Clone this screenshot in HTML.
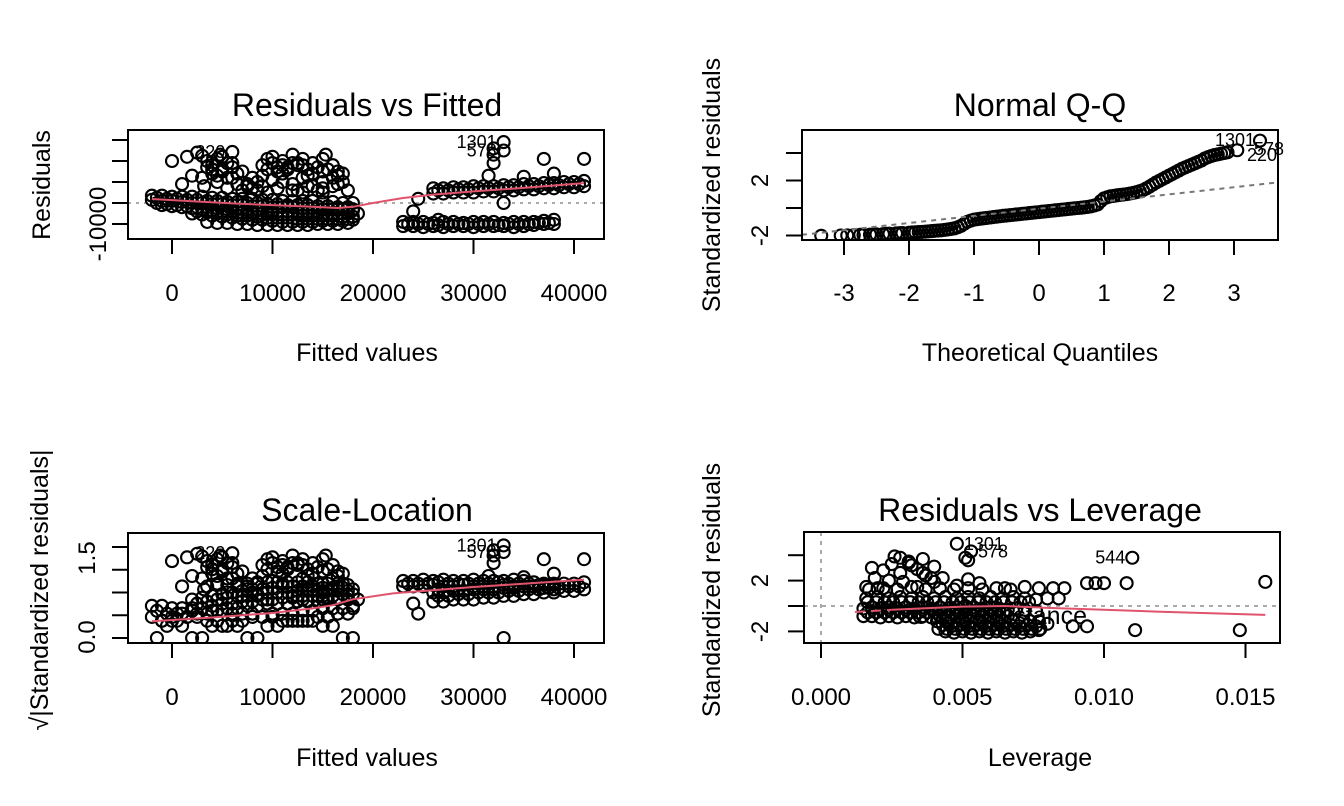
<!DOCTYPE html>
<html><head><meta charset="utf-8"><style>
html,body{margin:0;padding:0;background:#fff;}
svg{display:block;font-family:"Liberation Sans",Arial,sans-serif;}
</style></head><body>
<svg id="fig" width="1344" height="806" viewBox="0 0 1344 806">
<rect width="1344" height="806" fill="#fff"/>
<text x="367" y="116" font-size="32" text-anchor="middle">Residuals vs Fitted</text>
<text x="1040" y="116" font-size="32" text-anchor="middle">Normal Q-Q</text>
<text x="367" y="521" font-size="32" text-anchor="middle">Scale-Location</text>
<text x="1040" y="521" font-size="32" text-anchor="middle">Residuals vs Leverage</text>
<text x="367" y="361" font-size="25" text-anchor="middle">Fitted values</text>
<text x="1040" y="361" font-size="25" text-anchor="middle">Theoretical Quantiles</text>
<text x="367" y="766" font-size="25" text-anchor="middle">Fitted values</text>
<text x="1040" y="766" font-size="25" text-anchor="middle">Leverage</text>
<text transform="translate(50,185) rotate(-90)" font-size="25" text-anchor="middle">Residuals</text>
<text transform="translate(720,185) rotate(-90)" font-size="25" text-anchor="middle">Standardized residuals</text>
<text transform="translate(48,590) rotate(-90)" font-size="25" text-anchor="middle">√|Standardized residuals|</text>
<text transform="translate(720,590) rotate(-90)" font-size="25" text-anchor="middle">Standardized residuals</text>
<g id="plots"></g>
</svg>
<script>
// ---------- Panel 1 data (fitted, residual; thousands) ----------
const bandAX=[-2,-1,0,1,2,3,4,5,6,7,8,9,10,11,12,13,14,15,16,17,18];
const bandAR=[3.5,3.5,3,3,3,3,2.5,2.5,2,2,2,1.5,1.5,1,1,1,1,0.5,0.5,0,0];
const bandBX=[-2,-1,0,1,2,3,4,5,6,7,8,9,10,11,12,13,14,15,16,17,18];
const bandBR=[1.5,1,1,0.5,0,0,-0.5,-0.5,-1,-1,-1.5,-1.5,-2,-2,-2,-2.5,-2.5,-3,-3,-3,-3.5];
const bandCX=[-1,0,1,2,3,4,5,6,7,8,9,10,11,12,13,14,15,16,17,18];
const bandCR=[-1,-1.5,-2,-2.5,-3,-3.5,-4,-4,-4.5,-4.5,-5,-5,-5.5,-5.5,-6,-6,-6,-6,-6.5,-6.5];
const bandDX=[2,3,4,5,6,7,8,9,10,11,12,13,14,15,16,17,18];
const bandDR=[-5,-5.5,-6,-6.5,-7,-7.5,-8,-8,-8.5,-9,-9,-9,-9,-8.5,-8.5,-8.5,-8];
const bandEX=[-1.5,-0.5,0.5,1.5,2.5,3.5,4.5,5.5,6.5,7.5,8.5,9.5,10.5,11.5,12.5,13.5,14.5,15.5,16.5,17.5];
const bandER=[2.5,2,2,1.5,1.5,1,1,0.5,0.5,0,0,-0.5,-0.5,-1,-1,-1,-1.5,-1.5,-2,-2];
const bandFR=[0,-0.5,-1,-1.5,-2,-2,-2.5,-3,-3,-3.5,-3.5,-4,-4,-4,-4.5,-4.5,-4.5,-5,-5,-5];
const bandGX=[2.5,3.5,4.5,5.5,6.5,7.5,8.5,9.5,10.5,11.5,12.5,13.5,14.5,15.5,16.5,17.5];
const bandGR=[-4,-4.5,-5,-5.5,-6,-6,-6.5,-7,-7,-7,-7.5,-7.5,-7.5,-7.5,-7.5,-7.5];
const bandHX=[3.5,4.5,5.5,6.5,7.5,8.5,9.5,10.5,11.5,12.5,13.5,14.5,15.5,16.5,17.5];
const bandHR=[-9,-9.5,-9.5,-10,-10,-10.5,-10.5,-10.5,-10.5,-10.5,-10.5,-10,-10,-10,-9.5];
const upX=[1.5,2.5,3.5,4,4.5,5,5.5,3,4,5,6,7,2,3.2,4.5,6,7.5,8.5,9,9.5,10,10.5,11,11.5,12,12.5,13,13.5,14,15,15.3,16,16.5,17,9,10,11,12,13,14,15,16,5.5,7,8,12.5,14.5,3,4.8,17.5,18,18.5,0,1,6.5,8,6];
const upR=[22,24,20,18,21,22,19,12,14,16,17,15,13,8,10,12,9,10,18,21,19,17,20,16,23,19,18,16,14,21,23,12,15,10,13,11,14,9,12,8,10,8,7,6,7,6,6,22.5,23,6,-3,-5,20,9,14,12,24.3];
const up2X=[9.5,10.5,11.5,12.5,13.5,14.5,15.5,16.5,10,11,12,13,14,15,16,17,9,10.5,12,13.5,15,16.5,4,5,6,3.5,4.5,5.5,6.5,7.5,8.5,9.5,11,13,15];
const up2R=[16,15,17,18,13,17,16,13,22,18,19,21,19,15,18,14,8,7,6,8,7,9,16,15,19,17,13,12,9,8,6,5,10,5,5];
const rU1X=[26,27,28,29,30,31,32,33,34,35,36,37,38,39,40,41];
const rU1R=[7,7,7.5,7.5,8,8,8,8.5,8.5,9,9,9.5,9.5,10,10,10.5];
const rU2R=[4.5,4.5,5,5,5,5.5,5.5,6,6,6.5,6.5,7,7,7.5,7.5,8];
const rU3X=[26.5,27.5,28.5,29.5,30.5,31.5,32.5,33.5,34.5,35.5,36.5,37.5,38.5,39.5,40.5];
const rU3R=[6,6,6.5,6.5,7,7,7,7.5,7.5,8,8,8.5,8.5,9,9];
const rLX=[23,24,25,26,27,28,29,30,31,32,33,34,35,36,37,38];
const rL1R=[-9,-9,-9,-9.5,-9,-9,-9.5,-9,-9,-9,-9.5,-9,-9,-9,-8.5,-8];
const rL2R=[-11,-11,-11.5,-11,-11.5,-11,-11,-11.5,-11,-11,-11,-11.5,-11,-10.5,-10,-10];
const rL3X=[23.5,24.5,25.5,26.5,27.5,28.5,29.5,30.5,31.5,32.5,33.5,34.5,35.5,36.5,37.5];
const rL3R=[-10,-10,-10,-10.5,-10,-10,-10,-10,-10,-10.5,-10,-10,-10,-9.5,-9.5];
const outX=[33,33,32,32,32,31.5,35,37,41,38,24.5,24,33,26.5];
const outR=[29,25,26,23,19,13,12.5,21,21,14,2,-4,0,-8];
const loess1X=[-2,2,6,10,14,16.5,18,20,23,26,30,35,41];
const loess1Y=[1.9,0.8,-0.2,-1,-1.8,-2.4,-1.8,0,2.4,4,5.5,7.2,9.5];
const loess3X=[-2,4,10,14,16,18,22,30,41];
const loess3Y=[0.37,0.45,0.55,0.65,0.72,0.85,0.98,1.12,1.28];
// ---------- Panel 2 data ----------
const qqTheo=[-3.35,-3.05,-2.85,-2.7,-2.6,-2.5,-2.4,-2.3,-2.2,-2.1,-2,-1.9,-1.8,-1.7,-1.6,-1.5,-1.4,-1.3,-1.2,-1.1,-1,-0.9,-0.8,-0.7,-0.6,-0.5,-0.4,-0.3,-0.2,-0.1,0,0.1,0.2,0.3,0.4,0.5,0.6,0.7,0.8,0.9,1,1.1,1.2,1.3,1.4,1.5,1.6,1.7,1.8,1.9,2,2.1,2.2,2.3,2.4,2.5,2.6,2.7,2.8,2.9,3.05,3.4];
const qqStd=[-2.02,-2,-1.98,-1.96,-1.94,-1.92,-1.9,-1.87,-1.85,-1.82,-1.8,-1.77,-1.74,-1.7,-1.66,-1.62,-1.56,-1.48,-1.3,-1.0,-0.85,-0.78,-0.72,-0.66,-0.6,-0.55,-0.5,-0.45,-0.4,-0.35,-0.3,-0.25,-0.2,-0.15,-0.1,-0.05,0,0.05,0.12,0.25,0.7,0.85,0.92,0.98,1.05,1.15,1.3,1.55,1.85,2.1,2.35,2.6,2.85,3.05,3.25,3.45,3.7,3.85,3.95,4.05,4.2,4.9];
const qqTheo2=[-2.95,-2.75,-2.55,-2.35,-2.15,-1.95,-1.85,-1.75,-1.65,-1.55,-1.45,-1.35,-1.25,-1.15,-1.05,-0.95,-0.85,-0.75,-0.65,-0.55,-0.45,-0.35,-0.25,-0.15,-0.05,0.05,0.15,0.25,0.35,0.45,0.55,0.65,0.75,0.85,0.95,1.05,1.15,1.25,1.35,1.45,1.55,1.65,1.75,1.85,1.95,2.05,2.15,2.25,2.35,2.45,2.55,2.65,2.75,2.85];
const qqStd2=[-1.99,-1.95,-1.93,-1.88,-1.83,-1.78,-1.75,-1.72,-1.68,-1.64,-1.59,-1.52,-1.4,-1.15,-0.92,-0.81,-0.75,-0.69,-0.63,-0.57,-0.52,-0.47,-0.42,-0.37,-0.32,-0.27,-0.22,-0.17,-0.12,-0.07,-0.02,0.02,0.08,0.18,0.5,0.78,0.88,0.95,1.01,1.1,1.22,1.42,1.7,1.97,2.22,2.47,2.72,2.95,3.15,3.35,3.6,3.78,3.9,4.0];
// ---------- Panel 4 data (leverage in 0.001, std residual) ----------
const levX=[1.5,1.8,2.1,2.4,2.7,3,3.3,3.6,3.9,4.2,4.5,4.8,5.1,5.4,5.7,6,6.3,6.6,
 1.5,1.8,2.1,2.4,2.7,3,3.3,3.6,3.9,4.2,4.5,4.8,5.1,5.4,5.7,6,6.3,6.6,6.9,7.2,7.6,
 1.6,2,2.4,2.8,3.2,3.6,4,4.4,4.8,5.2,5.6,6,6.4,6.8,7.2,7.6,8,8.4,
 4.3,4.6,4.9,5.2,5.5,5.8,6.1,6.4,6.7,7,7.3,7.6,8,
 4.4,4.7,5,5.3,5.6,5.9,6.2,6.5,6.8,7.1,7.4,7.7,
 1.6,1.9,2.2,2.5,2.8,3.1,3.4,3.7,4,2,2.4,2.8,3.2,3.6,4,1.8,2.3,2.9,3.4,3.9,2.6,3.1,3.6,4.3,4.8,5.2,5.6,6.5,
 1.7,2.2,2.7,3.2,3.7,4.2,4.7,5.2,5.7,6.2,6.7,7.2,7.7,8.2,8.6,
 4.8,5.3,5.1,5.2,9.4,9.7,10,10.8,11,11.1,14.8,15.7,9.4,8.9];
const levS=[-0.8,-0.8,-0.9,-0.8,-0.9,-0.8,-0.9,-0.8,-0.9,-0.8,-0.9,-0.8,-0.9,-0.8,-0.9,-0.8,-0.9,-0.8,
 -0.2,-0.1,-0.2,-0.1,-0.2,-0.1,-0.2,-0.1,-0.2,-0.1,-0.2,-0.1,0,-0.1,-0.2,-0.1,-0.2,-0.3,-0.2,-0.3,-0.4,
 0.6,0.7,0.6,0.7,0.6,0.7,0.6,0.7,0.6,0.7,0.6,0.7,0.6,0.7,0.6,0.5,0.6,0.6,
 -1.5,-1.6,-1.5,-1.6,-1.5,-1.6,-1.5,-1.6,-1.5,-1.6,-1.5,-1.6,-1.4,
 -2,-2.1,-2,-2.1,-2,-2.1,-2,-2.1,-2,-2.1,-2,-1.9,
 1.5,2.2,2.8,3.3,3.8,3.4,2.9,2.4,1.9,1.4,2,2.6,3.2,2.6,3.1,3,1.2,1.9,1.5,2.2,3.9,3.5,3.7,2.2,1.6,2.1,1.8,1.4,
 1.3,1.4,1.3,1.5,1.3,1.4,1.3,1.4,1.3,1.4,1.3,1.5,1.4,1.4,1.4,
 4.9,4.3,3.8,3.6,1.8,1.8,1.8,1.8,3.8,-1.9,-1.9,1.9,-1.6,-1.6];
const lev2X=[1.65,1.95,2.25,2.55,2.85,3.15,3.45,3.75,4.05,4.35,4.65,4.95,5.25,5.55,5.85,6.15,6.45,
 1.65,1.95,2.25,2.55,2.85,3.15,3.45,3.75,4.05,4.35,4.65,4.95,5.25,5.55,5.85,6.15,6.45,6.75,7.05,7.35,
 4.1,4.4,4.7,5,5.3,5.6,5.9,6.2,6.5,6.8,7.1,7.4,7.7,
 4.15,4.45,4.75,5.05,5.35,5.65,5.95,6.25,6.55,6.85,7.15,7.45,7.75];
const lev2S=[-0.5,-0.5,-0.5,-0.5,-0.5,-0.5,-0.5,-0.5,-0.5,-0.5,-0.5,-0.5,-0.5,-0.5,-0.5,-0.5,-0.5,
 0.3,0.3,0.3,0.3,0.3,0.3,0.3,0.3,0.3,0.3,0.3,0.3,0.3,0.3,0.3,0.3,0.3,0.3,0.3,0.3,
 -1.2,-1.2,-1.2,-1.2,-1.2,-1.2,-1.2,-1.2,-1.2,-1.2,-1.2,-1.2,-1.2,
 -1.8,-1.8,-1.8,-1.8,-1.8,-1.8,-1.8,-1.8,-1.8,-1.8,-1.8,-1.8,-1.8];
const loess4X=[1.2,2.5,5,6.5,8,10,12,15.7];
const loess4Y=[-0.47,-0.3,-0.05,0,-0.15,-0.3,-0.45,-0.7];

const NS='http://www.w3.org/2000/svg';
const root=document.getElementById('plots');
function mk(tag,attrs,name,parent){
  const e=document.createElementNS(NS,tag);
  for(const k in attrs) e.setAttribute(k,attrs[k]);
  
  
  (parent||root).appendChild(e);
  return e;
}
function txt(s,attrs,name,parent){const e=mk('text',attrs,name,parent);e.textContent=s;return e;}

const panels={
 p1:{L:128,R:604,T:130,B:239,sx:x=>172+x*10.05,sy:r=>203-r*2.1},
 p2:{L:802,R:1278,T:130,B:240,sx:q=>1039+q*65,sy:s=>208-s*13.75},
 p3:{L:128,R:604,T:533,B:643,sx:x=>172+x*10.05,sy:v=>638-v*45.5},
 p4:{L:804,R:1280,T:532,B:643,sx:l=>821+l*28.3,sy:s=>606-s*12.7}
};
function frame(P,id){
  mk('rect',{x:P.L,y:P.T,width:P.R-P.L,height:P.B-P.T,fill:'none',stroke:'#000','stroke-width':2},id+'-plot-box');
}
function xAxis(P,id,vals,labels,labY){
  vals.forEach((v,i)=>{
    const x=P.sx(v);
    mk('line',{x1:x,x2:x,y1:P.B,y2:P.B+15,stroke:'#000','stroke-width':2},id+'-x-tick');
    txt(labels[i],{x:x,y:labY,'font-size':24,'text-anchor':'middle'},id+'-x-tick-label');
  });
}
function yAxis(P,id,vals,labels,lx,labPos){
  vals.forEach((v,i)=>{
    const y=P.sy(v);
    mk('line',{x1:P.L-16,x2:P.L,y1:y,y2:y,stroke:'#000','stroke-width':2},id+'-y-tick');
    if(labels[i]){
      const yy=labPos&&labPos[i]!=null?labPos[i]:y;
      txt(labels[i],{transform:`translate(${lx},${yy}) rotate(-90)`,'font-size':24,'text-anchor':'middle'},id+'-y-tick-label');
    }
  });
}
function clipFor(P,id){
  const cp=mk('clipPath',{id:id+'clip'},id+'-clip');
  mk('rect',{x:P.L,y:P.T,width:P.R-P.L,height:P.B-P.T},id+'-clip-rect',cp);
  return mk('g',{'clip-path':`url(#${id}clip)`},id+'-plot-area');
}
function pts(P,g,xs,ys,name,f){
  xs.forEach((x,i)=>{
    const y=f?f(ys[i]):ys[i];
    mk('circle',{cx:P.sx(x),cy:P.sy(y),r:6,fill:'none',stroke:'#000','stroke-width':2.1},name,g);
  });
}
function line(P,g,xs,ys,name,attrs){
  const d=xs.map((x,i)=>(i?'L':'M')+P.sx(x).toFixed(1)+','+P.sy(ys[i]).toFixed(1)).join('');
  mk('path',Object.assign({d:d,fill:'none'},attrs),name,g);
}
function allP1(P,g,name,f){
  pts(P,g,bandAX,bandAR,name,f);pts(P,g,bandBX,bandBR,name,f);pts(P,g,bandCX,bandCR,name,f);pts(P,g,bandDX,bandDR,name,f);
  pts(P,g,bandEX,bandER,name,f);pts(P,g,bandEX,bandFR,name,f);pts(P,g,bandGX,bandGR,name,f);pts(P,g,bandHX,bandHR,name,f);
  pts(P,g,upX,upR,name,f);pts(P,g,up2X,up2R,name,f);
  pts(P,g,rU1X,rU1R,name,f);pts(P,g,rU1X,rU2R,name,f);pts(P,g,rU3X,rU3R,name,f);
  pts(P,g,rLX,rL1R,name,f);pts(P,g,rLX,rL2R,name,f);pts(P,g,rL3X,rL3R,name,f);pts(P,g,outX,outR,name,f);
}

// ---- Panel 1 ----
let P=panels.p1;
let g=mk('g',{},'p1-points');
mk('line',{x1:P.L,x2:P.R,y1:P.sy(0),y2:P.sy(0),stroke:'#aaa','stroke-width':2,'stroke-dasharray':'3,5'},'p1-zero-line',g);
allP1(P,g,'p1-point');
line(P,g,loess1X,loess1Y,'p1-smooth-line',{stroke:'#DF536B','stroke-width':2});
txt('220',{x:P.sx(6)-7,y:P.sy(24.3)+6,'font-size':18,'text-anchor':'end'},'p1-point-label-220');
txt('1301',{x:P.sx(33)-7,y:P.sy(29)+6,'font-size':18,'text-anchor':'end'},'p1-point-label-1301');
txt('578',{x:P.sx(33)-7,y:P.sy(25)+6,'font-size':18,'text-anchor':'end'},'p1-point-label-578');
frame(P,'p1');
xAxis(P,'p1',[0,10,20,30,40],['0','10000','20000','30000','40000'],301);
yAxis(P,'p1',[-10,0,10,20,30],['-10000','','','',''],106);

// ---- Panel 2 ----
P=panels.p2;
g=clipFor(P,'p2');
pts(P,g,qqTheo,qqStd,'p2-qq-point');
pts(P,g,qqTheo2,qqStd2,'p2-qq-point');
line(P,g,[-3.8,3.8],[-0.05-0.52*3.8,-0.05+0.52*3.8],'p2-reference-line',{stroke:'#777','stroke-width':2,'stroke-dasharray':'5,5'});
txt('1301',{x:1255,y:146,'font-size':18,'text-anchor':'end'},'p2-point-label-1301');
txt('578',{x:1284,y:155,'font-size':18,'text-anchor':'end'},'p2-point-label-578');
txt('220',{x:1277,y:161,'font-size':18,'text-anchor':'end'},'p2-point-label-220');
frame(P,'p2');
xAxis(P,'p2',[-3,-2,-1,0,1,2,3],['-3','-2','-1','0','1','2','3'],301);
yAxis(P,'p2',[-2,0,2,4],['-2','','2',''],768);

// ---- Panel 3 ----
P=panels.p3;
g=clipFor(P,'p3');
const sl=r=>Math.sqrt(Math.abs(r)/7);
allP1(P,g,'p3-point',sl);
line(P,g,loess3X,loess3Y,'p3-smooth-line',{stroke:'#DF536B','stroke-width':2});
txt('220',{x:P.sx(6)-7,y:P.sy(sl(24.3))+6,'font-size':18,'text-anchor':'end'},'p3-point-label-220');
txt('1301',{x:P.sx(33)-7,y:P.sy(sl(29))+6,'font-size':18,'text-anchor':'end'},'p3-point-label-1301');
txt('578',{x:P.sx(33)-7,y:P.sy(sl(25))+6,'font-size':18,'text-anchor':'end'},'p3-point-label-578');
frame(P,'p3');
xAxis(P,'p3',[0,10,20,30,40],['0','10000','20000','30000','40000'],705);
yAxis(P,'p3',[0,0.5,1,1.5,2],['0.0','','','1.5',''],95,[637,null,null,558,null]);

// ---- Panel 4 ----
P=panels.p4;
g=clipFor(P,'p4');
mk('line',{x1:P.L,x2:P.R,y1:P.sy(0),y2:P.sy(0),stroke:'#aaa','stroke-width':2,'stroke-dasharray':'4,5'},'p4-zero-line',g);
mk('line',{x1:P.sx(0),x2:P.sx(0),y1:P.T,y2:P.B,stroke:'#aaa','stroke-width':2,'stroke-dasharray':'4,5'},'p4-zero-leverage-line',g);
txt("Cook's distance",{x:1087,y:624,'font-size':25,'text-anchor':'end'},'p4-cooks-distance-legend',g);
pts(P,g,levX,levS,'p4-point');
pts(P,g,lev2X,lev2S,'p4-point');
line(P,g,loess4X.slice(0,2),loess4Y.slice(0,2),'p4-smooth-line-dashed',{stroke:'#DF536B','stroke-width':2,'stroke-dasharray':'10,6'});
line(P,g,loess4X.slice(1),loess4Y.slice(1),'p4-smooth-line',{stroke:'#DF536B','stroke-width':2});
txt('1301',{x:P.sx(4.8)+7,y:P.sy(4.9)+6,'font-size':18},'p4-point-label-1301');
txt('578',{x:P.sx(5.3)+7,y:P.sy(4.3)+6,'font-size':18},'p4-point-label-578');
txt('544',{x:P.sx(11)-7,y:P.sy(3.8)+6,'font-size':18,'text-anchor':'end'},'p4-point-label-544');
frame(P,'p4');
xAxis(P,'p4',[0,5,10,15],['0.000','0.005','0.010','0.015'],705);
yAxis(P,'p4',[-2,0,2,4],['-2','','2',''],768);
</script>
</body></html>
